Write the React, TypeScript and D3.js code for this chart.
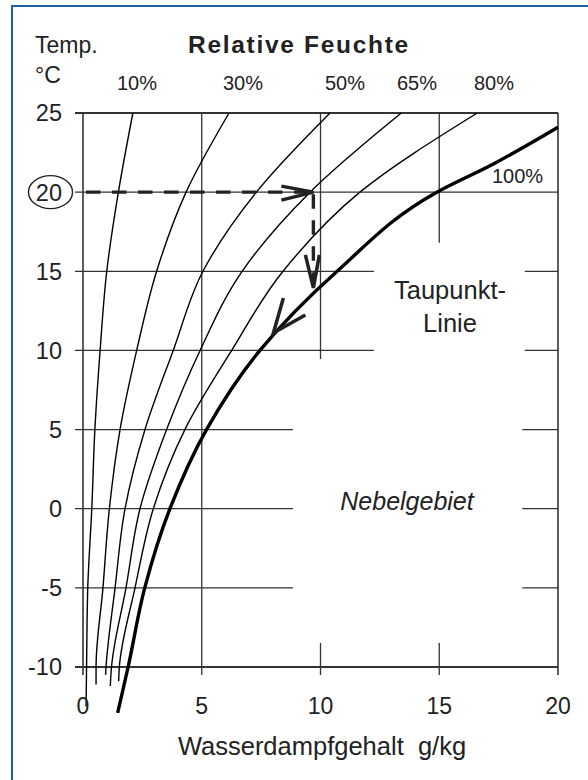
import React from 'react';
import * as d3 from 'd3';

const curveTemps = [25, 20, 15, 10, 5, 0, -5, -10];
// Wasserdampfgehalt g/kg je relative Feuchte
const rh10 = [2.1, 1.49, 1.0, 0.72, 0.5, 0.37, 0.2, 0.15];
const rh30 = [6.15, 4.34, 3.1, 2.26, 1.56, 1.11, 0.84, 0.55];
const rh50 = [10.4, 7.3, 5.05, 3.8, 2.61, 1.77, 1.35, 0.97];
const rh65 = [13.4, 9.56, 6.7, 4.93, 3.52, 2.4, 1.81, 1.2];
const rh80 = [16.6, 11.66, 8.42, 6.26, 4.29, 2.96, 2.19, 1.53];
// Endpunkte unterhalb -10 °C [g/kg, °C]
const rhEnds = [[0.13, -12.5], [0.55, -11.1], [0.95, -10.5], [1.15, -11.2], [1.5, -10.9]];

// Taupunktlinie (100 %)
const dewTemps = [24.1, 21.8, 20, 15, 10, 5, 0, -5, -10, -12.9];
const dewWater = [20, 17.3, 14.9, 10.7, 7.45, 5.2, 3.66, 2.6, 1.9, 1.46];

const tempTicks = [25, 20, 15, 10, 5, 0, -5, -10];
const waterTicks = [0, 5, 10, 15, 20];

// Lücken im Gitter (für die Beschriftungen)
const hGaps: Record<string, [number, number]> = { '15': [12.25, 18.6], '10': [12.25, 18.6], '5': [8.84, 18.5], '0': [8.84, 18.5], '-5': [8.84, 18.5] };
const vGaps: Record<string, [number, number]> = { '10': [9.46, -8.48], '15': [16.8, -8.48] };

// Beispiel: 20 °C, 50 % -> Taupunkt
const exampleTemp = 20;
const exampleWater = 9.7;
const exampleDew = 14.3;

const font = '"Liberation Sans", Arial, sans-serif';
const ink = '#222';

export default function App() {
  const x = d3.scaleLinear().domain([0, 20]).range([83, 558]);
  const y = d3.scaleLinear().domain([-10, 25]).range([667, 113]);

  const line = d3.line<[number, number]>()
    .x(d => x(d[0]))
    .y(d => y(d[1]))
    .curve(d3.curveMonotoneY);

  const rhSeries = [rh10, rh30, rh50, rh65, rh80].map((vals, i) => {
    const pts: [number, number][] = vals.map((v, j) => [v, curveTemps[j]]);
    pts.push(rhEnds[i] as [number, number]);
    return pts;
  });
  const dewPts: [number, number][] = dewWater.map((v, i) => [v, dewTemps[i]]);

  const hLines: { x1: number; x2: number; t: number }[] = [];
  tempTicks.forEach(t => {
    const g = hGaps[String(t)];
    if (g) {
      hLines.push({ x1: x(0) - 8, x2: x(g[0]), t });
      hLines.push({ x1: x(g[1]), x2: x(20), t });
    } else {
      hLines.push({ x1: x(0) - 8, x2: x(20), t });
    }
  });
  const vLines: { y1: number; y2: number; w: number }[] = [];
  waterTicks.forEach(w => {
    const g = vGaps[String(w)];
    if (g) {
      vLines.push({ y1: y(25), y2: y(g[0]), w });
      vLines.push({ y1: y(g[1]), y2: y(-10) + 8, w });
    } else {
      vLines.push({ y1: y(25), y2: y(-10) + 8, w });
    }
  });

  const ex = x(exampleWater);
  const ey = y(exampleTemp);
  const dy = y(exampleDew);
  const tipV = y(13.95);

  return (
    <svg width={588} height={780} style={{ position: 'absolute', left: 0, top: 0, background: '#fff' }}>
      <rect x={12} y={6} width={620} height={820} fill="#fff" stroke="#1f5fa8" strokeWidth={2} />

      {/* Gitter */}
      {hLines.map((l, i) => (
        <line key={'h' + i} x1={l.x1} x2={l.x2} y1={y(l.t)} y2={y(l.t)}
          stroke="#333" strokeWidth={l.t === 25 || l.t === -10 ? 1.8 : 1.3} />
      ))}
      {vLines.map((l, i) => (
        <line key={'v' + i} x1={x(l.w)} x2={x(l.w)} y1={l.y1} y2={l.y2}
          stroke="#333" strokeWidth={l.w === 0 || l.w === 20 ? 1.6 : 1.3} />
      ))}

      {/* Feuchtekurven */}
      {rhSeries.map((pts, i) => (
        <path key={'rh' + i} d={line(pts) || ''} fill="none" stroke="#000" strokeWidth={1.4} />
      ))}
      <path d={line(dewPts) || ''} fill="none" stroke="#000" strokeWidth={3.4} />

      {/* Beispielpfeile */}
      <line x1={x(0) + 3} x2={ex} y1={ey} y2={ey} stroke={ink} strokeWidth={3.4} strokeDasharray="14.5 11.5" />
      <path d={`M${ex - 32},${ey - 6} L${ex},${ey} L${ex - 32},${ey + 8}`} fill="none" stroke={ink} strokeWidth={3.5} />
      <line x1={ex} x2={ex} y1={ey + 2} y2={dy} stroke={ink} strokeWidth={3.4} strokeDasharray="14.5 11.5" />
      <path d={`M${ex - 8},${tipV - 33} L${ex},${tipV} L${ex + 6},${tipV - 33}`} fill="none" stroke={ink} strokeWidth={3.5} />
      <path d={`M${ex - 30},${tipV + 10} L${ex - 40},${tipV + 45} L${ex - 8},${tipV + 27}`} fill="none" stroke={ink} strokeWidth={3.5} />

      {/* Achsenbeschriftung */}
      <g fontFamily={font} fill={ink}>
        {tempTicks.map(t => (
          <text key={'yt' + t} x={62} y={y(t)} dy="0.36em" fontSize={23.5} textAnchor="end">{t}</text>
        ))}
        {waterTicks.map(w => (
          <text key={'xt' + w} x={x(w)} y={714} fontSize={23} textAnchor="middle">{w}</text>
        ))}
        <ellipse cx={50.5} cy={y(20)} rx={22} ry={16.5} fill="none" stroke={ink} strokeWidth={1.4} />

        <text x={35} y={53} fontSize={23}>Temp.</text>
        <text x={35} y={83} fontSize={23}>°C</text>
        <text x={188} y={53} fontSize={24.5} fontWeight="bold" letterSpacing={1.7}>Relative Feuchte</text>

        <text x={117} y={90} fontSize={20}>10%</text>
        <text x={223} y={90} fontSize={20}>30%</text>
        <text x={325} y={90} fontSize={20}>50%</text>
        <text x={397} y={90} fontSize={20}>65%</text>
        <text x={474} y={90} fontSize={20}>80%</text>
        <text x={492} y={183} fontSize={20}>100%</text>

        <text x={450} y={299} fontSize={25.5} textAnchor="middle">Taupunkt-</text>
        <text x={450} y={332} fontSize={25.5} textAnchor="middle">Linie</text>
        <text x={407} y={510} fontSize={25} fontStyle="italic" textAnchor="middle">Nebelgebiet</text>

        <text x={322} y={755} fontSize={25.5} textAnchor="middle" style={{ whiteSpace: 'pre' }}>Wasserdampfgehalt  g/kg</text>
      </g>
    </svg>
  );
}
